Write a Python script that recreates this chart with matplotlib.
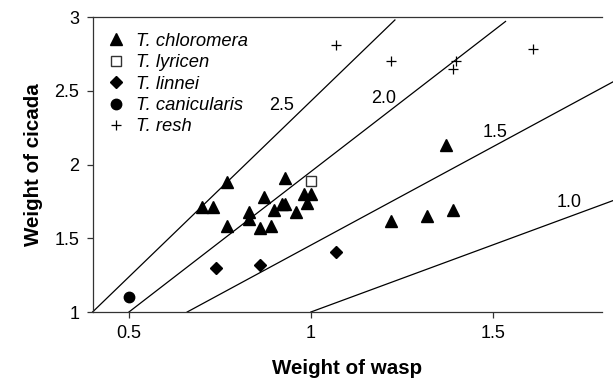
import matplotlib
matplotlib.use("Agg")
import matplotlib.pyplot as plt

plt.rcParams['font.family'] = ['Liberation Sans', 'DejaVu Sans']

# T. chloromera (filled triangles)
chloromera_x = [0.77, 0.70, 0.73, 0.93, 0.87, 0.83, 0.83, 0.77, 0.86, 0.89, 0.90,
                0.92, 0.93, 0.96, 0.98, 1.00, 0.99, 1.37, 1.22, 1.32, 1.39]
chloromera_y = [1.88, 1.71, 1.71, 1.91, 1.78, 1.68, 1.63, 1.58, 1.57, 1.58, 1.69,
                1.73, 1.73, 1.68, 1.80, 1.80, 1.74, 2.13, 1.62, 1.65, 1.69]
# T. lyricen (open square)
lyricen_x = [1.00]
lyricen_y = [1.89]
# T. linnei (diamonds)
linnei_x = [0.74, 0.86, 1.07]
linnei_y = [1.30, 1.32, 1.41]
# T. canicularis (circle)
canicularis_x = [0.50]
canicularis_y = [1.10]
# T. resh (plus)
resh_x = [1.07, 1.22, 1.40, 1.39, 1.61]
resh_y = [2.81, 2.70, 2.70, 2.65, 2.78]

# weight-ratio reference lines (start, end) and their labels
ratio_labels = ['2.5', '2.0', '1.5', '1.0']
ratio_line_x = [[0.40, 1.231], [0.50, 1.535], [0.66, 1.83], [1.00, 1.83]]
ratio_line_y = [[1.00, 2.98], [1.00, 2.97], [1.00, 2.56], [1.00, 1.755]]
ratio_label_x = [0.92, 1.20, 1.505, 1.71]
ratio_label_y = [2.40, 2.45, 2.22, 1.74]

fig = plt.figure(figsize=(6.13, 3.78), dpi=100)
ax = fig.add_axes([0.151, 0.1746, 0.831, 0.7804])

for lx, ly in zip(ratio_line_x, ratio_line_y):
    ax.plot(lx, ly, color='black', lw=0.9, clip_on=False, zorder=1)
for tx, ty, lab in zip(ratio_label_x, ratio_label_y, ratio_labels):
    ax.text(tx, ty, lab, fontsize=13, ha='center', va='center', zorder=2)

ax.plot(chloromera_x, chloromera_y, linestyle='none', marker='^', ms=8.5,
        color='black', label='T. chloromera', zorder=3)
ax.plot(lyricen_x, lyricen_y, linestyle='none', marker='s', ms=7,
        mfc='white', mec='#333333', mew=1.0, label='T. lyricen', zorder=3)
ax.plot(linnei_x, linnei_y, linestyle='none', marker='D', ms=6,
        color='black', label='T. linnei', zorder=3)
ax.plot(canicularis_x, canicularis_y, linestyle='none', marker='o', ms=7.5,
        color='black', label='T. canicularis', zorder=3)
ax.plot(resh_x, resh_y, linestyle='none', marker='+', ms=7, mew=0.9,
        color='black', label='T. resh', zorder=3)

ax.set_xlim(0.4, 1.8)
ax.set_ylim(1, 3)
ax.set_xticks([0.5, 1, 1.5])
ax.set_xticklabels(['0.5', '1', '1.5'])
ax.set_yticks([1, 1.5, 2, 2.5, 3])
ax.set_yticklabels(['1', '1.5', '2', '2.5', '3'])
ax.tick_params(direction='out', length=4.5, width=0.9, color='#333333',
               labelsize=13, pad=5)

ax.spines['right'].set_visible(False)
for s in ['left', 'bottom', 'top']:
    ax.spines[s].set_color('#333333')
    ax.spines[s].set_linewidth(0.9)

ax.set_xlabel('Weight of wasp', fontsize=14.8, fontweight='bold', labelpad=12)
ax.set_ylabel('Weight of cicada', fontsize=14.8, fontweight='bold', labelpad=8)

leg = ax.legend(loc='upper left', bbox_to_anchor=(-0.006, 0.99), frameon=False,
                prop={'style': 'italic', 'size': 13.2}, handletextpad=0.35,
                labelspacing=0.24, handlelength=1.5, borderaxespad=0.3)

fig.savefig('out.png', dpi=100)
